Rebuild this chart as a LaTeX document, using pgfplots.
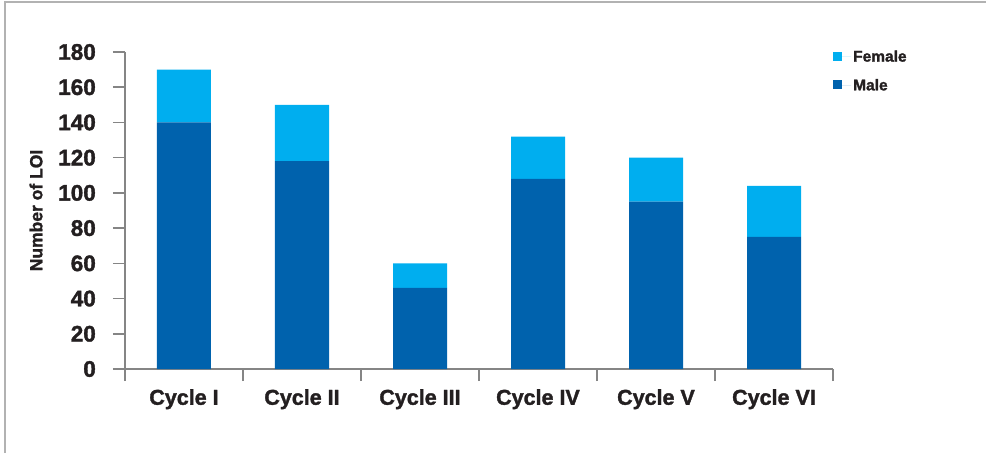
\documentclass[border=0pt]{standalone}
\usepackage{fontspec}
\setmainfont{Liberation Sans}[BoldFeatures={FakeBold=1.6}]
\usepackage{pgfplots}
\pgfplotsset{compat=1.18}
\definecolor{fem}{HTML}{00AEEF}
\definecolor{mal}{HTML}{0062AD}
\definecolor{axc}{HTML}{858585}
\definecolor{txt}{HTML}{231F20}
\begin{document}
\begin{tikzpicture}[x=1pt,y=1pt]
\path[use as bounding box] (0,0) rectangle (986,453);
\draw[color=black!30, line width=2pt] (5,0) -- (5,451) -- (986,451);
\begin{axis}[
  at={(125pt,84pt)}, anchor=south west,
  scale only axis, width=708pt, height=317pt,
  ybar stacked, bar width=54pt,
  xmin=0.5, xmax=6.5, ymin=0, ymax=180,
  axis x line*=bottom, axis y line*=left,
  axis line style={draw=axc, line width=1.6pt},
  every tick/.style={draw=axc, line width=1.6pt},
  tick align=outside, major tick length=12pt,
  xtick={0.5,1.5,...,6.5}, xticklabels={},
  extra x ticks={1,2,3,4,5,6},
  extra x tick labels={Cycle I,Cycle II,Cycle III,Cycle IV,Cycle V,Cycle VI},
  extra x tick style={major tick length=0pt, tick style={draw=none}},
  xticklabel style={font=\bfseries\fontsize{21.5}{25}\selectfont, text=txt, inner sep=0pt, yshift=-20pt},
  ytick={0,20,...,180},
  yticklabel style={font=\bfseries\fontsize{22.5}{26}\selectfont, text=txt, inner sep=0pt, xshift=-17pt},
  /pgf/number format/assume math mode=true,
  ylabel={Number of LOI},
  every axis y label/.style={at={(axis description cs:-0.1257,0.5)}, rotate=90, anchor=center, font=\bfseries\fontsize{17.5}{20}\selectfont, text=txt},
  legend style={at={(axis description cs:1,1.012)}, anchor=north west, draw=none, fill=none,
    font=\bfseries\fontsize{15.5}{18}\selectfont, text=txt, row sep=12pt, inner sep=0pt},
  legend cell align=left,
  reverse legend,
  legend image code/.code={\fill[#1] (0pt,-4pt) rectangle (9pt,5pt); \path (0pt,0pt) -- (18pt,0pt);},
]
\addplot[fill=mal, draw=none] coordinates {(1,140) (2,118) (3,46) (4,108) (5,95) (6,75)};
\addlegendentry{Male}
\addplot[fill=fem, draw=none] coordinates {(1,30) (2,32) (3,14) (4,24) (5,25) (6,29)};
\addlegendentry{Female}
\end{axis}
\end{tikzpicture}
\end{document}
